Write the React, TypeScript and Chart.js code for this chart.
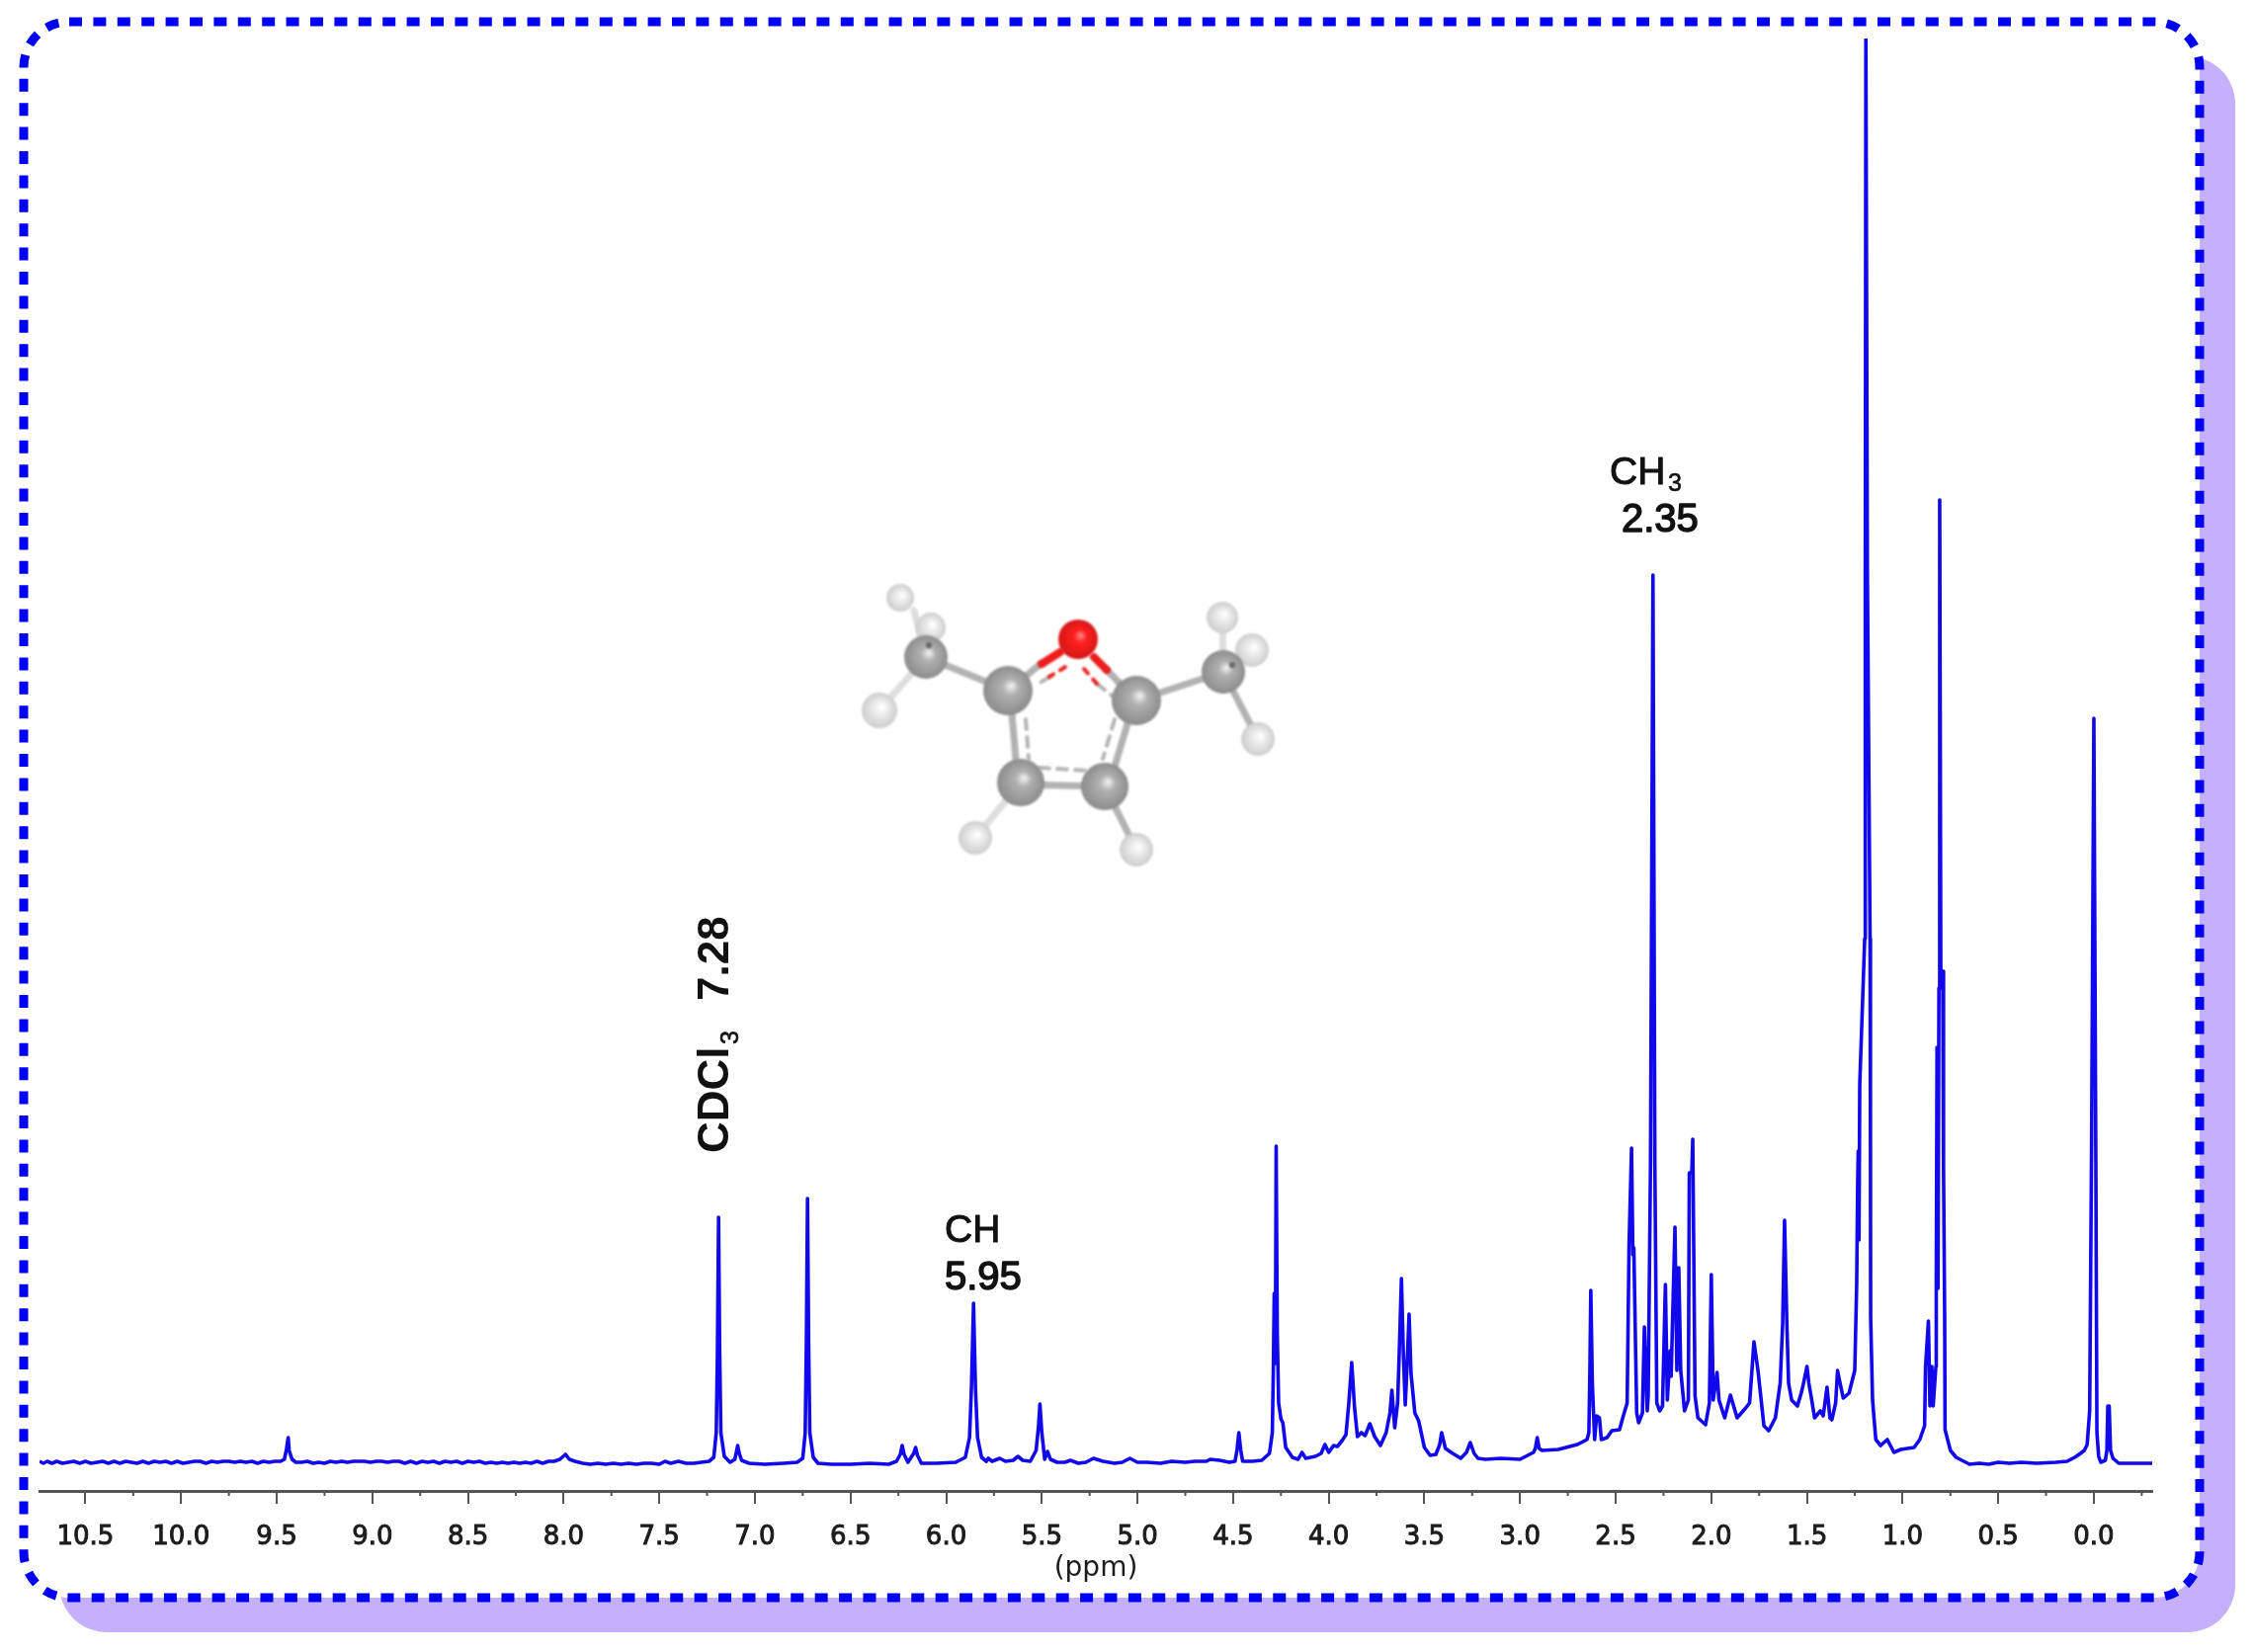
import React, { useEffect, useRef } from "react";
import { Chart, registerables } from "chart.js";

Chart.register(...registerables);

// ---- Spectrum readings: [chemical shift ppm, intensity above the baseline] ----
const baselineDownfield: [number, number][] = [
  [10.74, 1], [10.72, -1], [10.7, 1], [10.675, -1], [10.65, 1], [10.62, -1], [10.59, 0], [10.56, 1], [10.53, -1], [10.5, 1],
  [10.47, -1], [10.44, 0], [10.41, 1], [10.38, -1], [10.35, 1], [10.32, -1], [10.29, 1], [10.26, 0], [10.23, -1], [10.2, 1],
  [10.17, -1], [10.14, 1], [10.11, 0], [10.08, 1], [10.05, -1], [10.02, 1], [9.99, -1], [9.96, 0], [9.93, 1], [9.9, 1], [9.87, -1],
  [9.84, 1], [9.81, 0], [9.78, 1], [9.75, 1], [9.72, 0], [9.69, 1], [9.66, 0], [9.63, 1], [9.6, -1], [9.57, 1], [9.54, 0], [9.51, 1], [9.48, 1], [9.46, 3],
  [9.45, 12], [9.44, 25], [9.435, 12], [9.42, 3], [9.4, 0], [9.37, 0], [9.34, 1], [9.31, -1], [9.28, 0], [9.25, -1], [9.22, 1],
  [9.19, 0], [9.16, 1], [9.13, 0], [9.1, 1], [9.07, 1], [9.04, 1], [9.01, 0], [8.98, 1], [8.95, 1], [8.92, 0], [8.89, 1], [8.86, 1], [8.83, -1],
  [8.8, 1], [8.77, -1], [8.74, 1], [8.71, 0], [8.68, 1], [8.65, -1], [8.62, 1], [8.59, 0], [8.56, 1], [8.53, -1], [8.5, 1], [8.47, 0], [8.44, 1],
  [8.41, -1], [8.38, 0], [8.35, -1], [8.32, 0], [8.29, -1], [8.26, 0], [8.23, -1], [8.2, 0], [8.17, -1], [8.14, 1], [8.11, -1], [8.08, 1], [8.05, 1],
  [8.02, 3], [7.99, 8], [7.97, 3], [7.94, 1], [7.9, -1], [7.86, -2], [7.82, -1], [7.78, -2], [7.74, -1],
  [7.7, -2], [7.66, -1], [7.62, -2], [7.58, -1], [7.54, -1], [7.5, -2], [7.47, 1], [7.44, -1], [7.4, 1],
  [7.36, -1], [7.32, -1], [7.28, 0],
];
const peaksAromatic: [number, number][] = [
  [7.24, 1], [7.215, 5], [7.202, 30], [7.196, 110], [7.19, 248], [7.184, 110], [7.178, 30], [7.16, 6], [7.13, 0], [7.105, 3],
  [7.095, 12], [7.09, 17], [7.083, 10], [7.07, 2], [7.03, -1], [6.95, -2], [6.85, -1], [6.78, 0], [6.75, 4],
  [6.737, 30], [6.731, 120], [6.725, 267], [6.719, 120], [6.713, 30], [6.695, 5], [6.67, -1], [6.6, -2], [6.5, -2],
  [6.4, -1], [6.3, -2], [6.26, 1], [6.24, 8], [6.23, 17], [6.22, 8], [6.2, 0], [6.17, 9], [6.16, 15], [6.15, 7],
  [6.13, -1], [6.05, -1], [5.95, 0], [5.9, 5], [5.878, 25], [5.868, 75], [5.857, 161], [5.847, 75], [5.836, 25],
  [5.815, 5], [5.79, 1], [5.78, 4], [5.76, 1], [5.72, 4], [5.69, 1], [5.65, 2], [5.625, 6], [5.6, 2], [5.56, 1],
  [5.53, 12], [5.518, 35], [5.51, 59], [5.5, 30], [5.485, 3], [5.47, 11], [5.455, 3], [5.42, 0], [5.38, 0], [5.35, 2],
  [5.31, -1], [5.27, 0], [5.23, 4], [5.18, 1], [5.12, -1], [5.08, 0], [5.04, 4], [5.0, 0], [4.95, 0], [4.88, -1],
  [4.82, 1], [4.75, 0], [4.7, 1], [4.64, 1], [4.62, 3], [4.57, 2], [4.52, 0], [4.49, 1],
];
const peaksMidfield: [number, number][] = [
  [4.48, 12], [4.47, 30], [4.46, 12], [4.45, 1], [4.4, 1], [4.35, 2], [4.31, 9], [4.295, 30], [4.29, 90],
  [4.285, 171], [4.279, 100], [4.275, 320], [4.269, 130], [4.262, 60], [4.25, 44], [4.24, 40], [4.225, 15], [4.19, 5], [4.16, 3],
  [4.14, 10], [4.12, 4], [4.07, 6], [4.04, 9], [4.02, 18], [4.0, 10], [3.975, 17], [3.955, 16], [3.93, 22], [3.91, 28],
  [3.895, 60], [3.88, 101], [3.865, 55], [3.85, 26], [3.83, 30], [3.81, 27], [3.785, 39], [3.76, 26], [3.73, 17], [3.7, 30],
  [3.68, 50], [3.67, 73], [3.655, 35], [3.64, 60], [3.63, 120], [3.62, 186], [3.61, 110], [3.6, 58],
  [3.59, 100], [3.58, 150], [3.57, 90], [3.55, 50], [3.53, 42], [3.5, 15], [3.47, 7], [3.44, 8], [3.42, 18],
  [3.41, 30], [3.39, 14], [3.36, 10], [3.31, 4], [3.28, 10], [3.26, 20], [3.24, 9], [3.22, 4], [3.18, 3], [3.1, 4],
  [3.0, 3], [2.96, 7], [2.93, 10], [2.92, 14], [2.91, 25], [2.9, 14], [2.885, 12],
];
const peaksMethyl: [number, number][] = [
  [2.8, 13], [2.7, 18], [2.65, 23], [2.64, 30], [2.635, 90], [2.63, 174], [2.622, 80], [2.61, 23], [2.6, 47], [2.585, 45],
  [2.575, 23], [2.545, 25], [2.52, 32], [2.48, 33], [2.46, 47], [2.44, 60], [2.43, 220], [2.417, 318],
  [2.41, 210], [2.405, 217], [2.39, 50], [2.38, 40], [2.36, 50], [2.35, 137], [2.335, 52], [2.33, 67], [2.318, 300],
  [2.305, 898], [2.295, 300], [2.285, 60], [2.27, 52], [2.255, 57], [2.24, 180], [2.23, 63], [2.215, 113], [2.21, 87],
  [2.2, 163], [2.19, 238], [2.18, 93], [2.17, 197], [2.16, 93], [2.14, 52], [2.12, 63], [2.115, 293], [2.102, 293],
  [2.097, 327], [2.085, 67], [2.07, 45], [2.03, 38], [2.01, 60], [2.0, 190], [1.99, 63], [1.97, 91], [1.96, 63],
  [1.93, 45], [1.9, 68], [1.865, 45], [1.82, 55], [1.8, 60], [1.785, 100], [1.777, 122], [1.756, 93], [1.725, 37],
  [1.7, 32], [1.665, 45], [1.64, 80], [1.627, 140], [1.617, 245], [1.605, 140], [1.596, 80], [1.58, 63], [1.55, 57],
  [1.53, 70], [1.52, 78], [1.5, 97], [1.49, 80], [1.475, 63], [1.46, 45], [1.43, 52], [1.415, 47], [1.395, 76],
  [1.38, 45], [1.37, 43], [1.35, 60], [1.34, 93], [1.33, 83], [1.31, 65], [1.28, 70], [1.25, 93], [1.24, 180],
  [1.235, 280], [1.232, 315], [1.228, 225], [1.224, 382], [1.219, 382],
];
const peaksUpfield: [number, number][] = [
  [1.198, 530], [1.195, 900], [1.192, 1443], [1.188, 1443], [1.184, 900], [1.17, 530], [1.168, 330], [1.167, 147],
  [1.157, 63], [1.14, 23], [1.115, 17], [1.08, 23], [1.045, 10], [1.01, 13], [0.94, 15], [0.91, 23], [0.885, 37],
  [0.88, 97], [0.865, 143], [0.857, 57], [0.847, 97], [0.84, 57], [0.826, 97], [0.824, 176], [0.82, 420], [0.815, 176],
  [0.81, 480], [0.806, 974], [0.8, 480], [0.795, 490], [0.79, 497], [0.786, 300], [0.78, 147], [0.778, 33], [0.75, 12], [0.72, 5], [0.65, -2], [0.6, -1], [0.55, -2],
  [0.5, 0], [0.44, -1], [0.38, 0], [0.3, -1], [0.2, 0], [0.14, 1], [0.1, 5], [0.077, 8], [0.05, 12], [0.035, 18],
  [0.022, 52], [0.012, 320], [0.0, 753], [-0.01, 320], [-0.016, 30], [-0.025, 6], [-0.036, 0], [-0.06, 2],
  [-0.068, 12], [-0.073, 57], [-0.08, 57], [-0.087, 12], [-0.1, 4], [-0.13, -1], [-0.18, -1], [-0.24, -1], [-0.305, -1],
];
const spectrum: [number, number][] = [
  ...baselineDownfield, ...peaksAromatic, ...peaksMidfield, ...peaksMethyl, ...peaksUpfield,
];

const AXIS_TITLE = "(ppm)";
const MINOR_TICKS = [
  10.25, 9.75, 9.25, 8.75, 8.25, 7.75, 7.25, 6.75, 6.25, 5.75, 5.25, 4.75, 4.25, 3.75, 3.25, 2.75, 2.25, 1.75, 1.25, 0.75, 0.25, -0.25,
];

// ---- Inset model of the molecule (illustration, canvas pixels) ----
const carbonAtoms: [number, number, number][] = [
  [937, 665, 22], [1238, 680, 22], [1020, 699, 25], [1150, 709, 25], [1033, 792, 24], [1118, 796, 24],
];
const hydrogenAtoms: [number, number, number][] = [
  [911, 605, 14], [942, 635, 15], [890, 719, 18], [987, 848, 17], [1150, 860, 17], [1237, 625, 16], [1267, 658, 17], [1273, 748, 17],
];
const oxygenAtom: [number, number, number] = [1091, 647, 20];
const solidBonds: [number, number, number, number][] = [
  [937, 665, 1020, 699], [1150, 709, 1238, 680], [1022, 699, 1030, 792], [1148, 709, 1122, 796], [1033, 794, 1118, 796],
  [1020, 699, 1053, 672], [1150, 709, 1120, 678], [1118, 796, 1150, 860], [1238, 680, 1273, 748],
];
const paleBonds: [number, number, number, number][] = [
  [937, 665, 890, 719], [1033, 792, 987, 848], [937, 665, 925, 618], [1238, 680, 1237, 625], [1238, 680, 1267, 658],
];
const dashedBonds: [number, number, number, number][] = [
  [1038, 728, 1041, 768], [1128, 728, 1116, 768], [1052, 777, 1102, 780], [1110, 692, 1128, 706], [1062, 685, 1048, 694],
];
const redSolidBonds: [number, number, number, number][] = [[1073, 660, 1054, 672], [1107, 665, 1120, 678]];
const redDashedBonds: [number, number, number, number][] = [[1078, 675, 1062, 685], [1097, 677, 1110, 692]];
const methylDarkSpots: [number, number, number][] = [[940, 653, 3], [1247, 673, 3]];

const FRAME = { x: 24, y: 22, w: 2202, h: 1595, r: 46 };
const SHADOW = { x: 60, y: 57, w: 2202, h: 1595, r: 48 };

function stroked(ctx: CanvasRenderingContext2D, text: string, x: number, y: number, w = 1) {
  ctx.fillText(text, x, y);
  ctx.lineWidth = w;
  ctx.strokeText(text, x, y);
}

function sphere(ctx: CanvasRenderingContext2D, [x, y, r]: [number, number, number], light: string, mid: string, dark: string) {
  const g = ctx.createRadialGradient(x + r * 0.15, y - r * 0.2, r * 0.05, x, y, r);
  g.addColorStop(0, light);
  g.addColorStop(0.3, mid);
  g.addColorStop(1, dark);
  ctx.fillStyle = g;
  ctx.beginPath();
  ctx.arc(x, y, r, 0, Math.PI * 2);
  ctx.fill();
}

function bonds(ctx: CanvasRenderingContext2D, list: [number, number, number, number][], color: string, width: number, dash: number[] = []) {
  ctx.strokeStyle = color;
  ctx.lineWidth = width;
  ctx.setLineDash(dash);
  for (const [a, b, c, d] of list) {
    ctx.beginPath();
    ctx.moveTo(a, b);
    ctx.lineTo(c, d);
    ctx.stroke();
  }
  ctx.setLineDash([]);
}

const framePlugin = {
  id: "frame",
  beforeDraw(chart: any) {
    const ctx: CanvasRenderingContext2D = chart.ctx;
    ctx.save();
    ctx.fillStyle = "#ffffff";
    ctx.fillRect(0, 0, chart.width, chart.height);
    ctx.fillStyle = "#c5b0fb";
    ctx.beginPath();
    ctx.roundRect(SHADOW.x, SHADOW.y, SHADOW.w, SHADOW.h, SHADOW.r);
    ctx.fill();
    ctx.fillStyle = "#ffffff";
    ctx.beginPath();
    ctx.roundRect(FRAME.x, FRAME.y, FRAME.w, FRAME.h, FRAME.r);
    ctx.fill();
    ctx.strokeStyle = "#0000f5";
    ctx.lineWidth = 9;
    ctx.setLineDash([13, 11.4]);
    ctx.stroke();
    ctx.restore();
  },
};

const overlayPlugin = {
  id: "overlay",
  afterDraw(chart: any) {
    const ctx: CanvasRenderingContext2D = chart.ctx;
    const xs = chart.scales.x;
    const ys = chart.scales.y;
    ctx.save();

    // minor ticks
    ctx.strokeStyle = "#555555";
    ctx.lineWidth = 2;
    for (const v of MINOR_TICKS) {
      const px = xs.getPixelForValue(v);
      ctx.beginPath();
      ctx.moveTo(px, ys.bottom);
      ctx.lineTo(px, ys.bottom + 5);
      ctx.stroke();
    }

    // molecule
    ctx.save();
    ctx.filter = "blur(1.3px)";
    ctx.lineCap = "round";
    bonds(ctx, paleBonds, "#dedede", 7);
    bonds(ctx, solidBonds, "#b2b2b2", 7);
    bonds(ctx, dashedBonds, "#b4b4b4", 4, [10, 8]);
    bonds(ctx, redSolidBonds, "#ee1c1c", 8);
    bonds(ctx, redDashedBonds, "#ee2020", 4, [6, 8]);
    ctx.lineCap = "butt";
    for (const a of hydrogenAtoms) sphere(ctx, a, "#ffffff", "#efefef", "#cdcdcd");
    for (const a of carbonAtoms) sphere(ctx, a, "#ececec", "#b0b0b0", "#8c8c8c");
    for (const [x, y, r] of methylDarkSpots) {
      ctx.fillStyle = "#666666";
      ctx.beginPath();
      ctx.arc(x, y, r, 0, Math.PI * 2);
      ctx.fill();
    }
    sphere(ctx, oxygenAtom, "#ff7a7a", "#ff1f1f", "#d41616");
    ctx.restore();

    // annotations
    ctx.fillStyle = "#111111";
    ctx.strokeStyle = "#111111";
    ctx.textBaseline = "alphabetic";
    ctx.textAlign = "left";
    ctx.lineJoin = "round";
    ctx.font = '39px "Liberation Sans"';
    stroked(ctx, "CH", 1629, 490);
    stroked(ctx, "CH", 956, 1257);
    ctx.font = '40px "Liberation Sans"';
    stroked(ctx, "2.35", 1641, 538, 1.5);
    stroked(ctx, "5.95", 956, 1305, 1.5);
    ctx.font = '25px "Liberation Sans"';
    stroked(ctx, "3", 1688, 497, 0.6);

    ctx.translate(737, 1167);
    ctx.rotate(-Math.PI / 2);
    ctx.font = 'bold 44px "Liberation Sans"';
    ctx.fillText("CDCl", 0, 0);
    ctx.fillText("7.28", 154, 0);
    ctx.font = '25px "Liberation Sans"';
    stroked(ctx, "3", 110, 10, 0.6);
    ctx.restore();
  },
};

export default function App() {
  const ref = useRef<HTMLCanvasElement>(null);
  useEffect(() => {
    const chart = new Chart(ref.current!, {
      type: "line",
      data: {
        datasets: [
          {
            data: spectrum.map(([x, y]) => ({ x, y })),
            borderColor: "#1208ec",
            borderWidth: 3.6,
            borderJoinStyle: "round",
            pointRadius: 0,
            tension: 0,
            fill: false,
          },
        ],
      },
      options: {
        animation: false,
        responsive: false,
        devicePixelRatio: 1,
        layout: { padding: { left: 40, right: 102, top: 39, bottom: 0 } },
        plugins: { legend: { display: false }, tooltip: { enabled: false }, title: { display: false } },
        scales: {
          x: {
            type: "linear",
            reverse: true,
            min: -0.305,
            max: 10.74,
            afterFit(scale: any) {
              scale.height = 163;
            },
            border: { display: true, color: "#555555", width: 3 },
            grid: { drawOnChartArea: false, drawTicks: true, tickLength: 13, color: "#555555", lineWidth: 2 },
            ticks: {
              stepSize: 0.5,
              includeBounds: false,
              autoSkip: false,
              maxRotation: 0,
              minRotation: 0,
              padding: 19,
              color: "#1c1c1c",
              textStrokeColor: "#1c1c1c",
              textStrokeWidth: 1,
              font: { family: '"DejaVu Sans"', size: 26 },
              callback: (v: any) => Math.abs(Number(v)).toFixed(1),
            },
            title: {
              display: true,
              text: AXIS_TITLE,
              color: "#1c1c1c",
              font: { family: '"DejaVu Sans"', size: 28 },
              padding: { top: 0, bottom: 67 },
            },
          },
          y: { type: "linear", display: false, min: -29, max: 1441 },
        },
      },
      plugins: [framePlugin, overlayPlugin],
    } as any);
    return () => chart.destroy();
  }, []);
  return (
    <canvas
      ref={ref}
      width={2280}
      height={1672}
      style={{ position: "absolute", left: 0, top: 0, display: "block", width: 2280, height: 1672 }}
    />
  );
}
